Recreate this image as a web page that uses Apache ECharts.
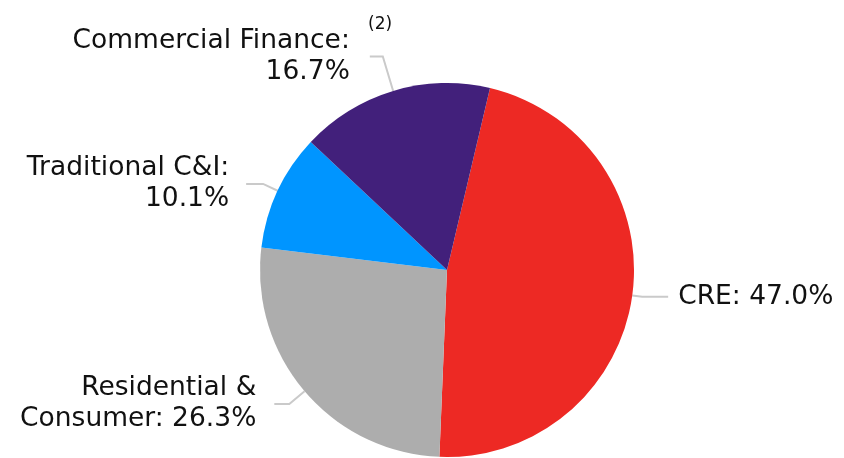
<!DOCTYPE html>
<html>
<head>
<meta charset="utf-8">
<script src="https://cdn.jsdelivr.net/npm/echarts@6/dist/echarts.min.js"></script>
<style>
  html, body { margin: 0; padding: 0; background: #fff; }
  #chart { width: 844px; height: 458px; }
</style>
</head>
<body>
<div id="chart"></div>
<script>
// 贷款组合构成
const categories = ["CRE", "Residential & Consumer", "Traditional C&I", "Commercial Finance"];
const shares = [47.0, 26.3, 10.1, 16.7];
const colors = ["#ED2924", "#ADADAD", "#0095FF", "#42207B"];

// 标签引导线长度 [length, length2, 文字间距]
const lineSizes = [
  [10, 26, 10],
  [20, 15, 18],
  [16, 17, 17],
  [36, 13, 20],
];

// 标签换行方式
const labelText = (name, value) => {
  const v = value.toFixed(1) + "%";
  if (name === "CRE") return name + ": " + v;
  if (name === "Residential & Consumer") return "Residential &\nConsumer: " + v;
  return name + ":\n" + v;
};

var myChart = echarts.init(document.getElementById("chart"));

const data = categories.map((name, i) => ({
  name: name,
  value: shares[i],
  itemStyle: { color: colors[i] },
  label: { distanceToLabelLine: lineSizes[i][2] },
  labelLine: { length: lineSizes[i][0], length2: lineSizes[i][1] },
}));

myChart.setOption({
  animation: false,
  graphic: [
    {
      type: "text",
      left: 368,
      top: 16,
      style: { text: "(2)", fontSize: 17, fill: "#111", fontFamily: "DejaVu Sans" },
    },
  ],
  series: [
    {
      type: "pie",
      center: [447, 270],
      radius: 187,
      startAngle: 76.7,
      clockwise: true,
      data: data,
      label: {
        show: true,
        fontFamily: "DejaVu Sans",
        fontSize: 26.5,
        lineHeight: 31,
        color: "#111",
        formatter: (p) => labelText(p.name, p.value),
      },
      labelLine: {
        show: true,
        smooth: false,
        lineStyle: { color: "#CACACA", width: 2 },
      },
    },
  ],
});
</script>
</body>
</html>
